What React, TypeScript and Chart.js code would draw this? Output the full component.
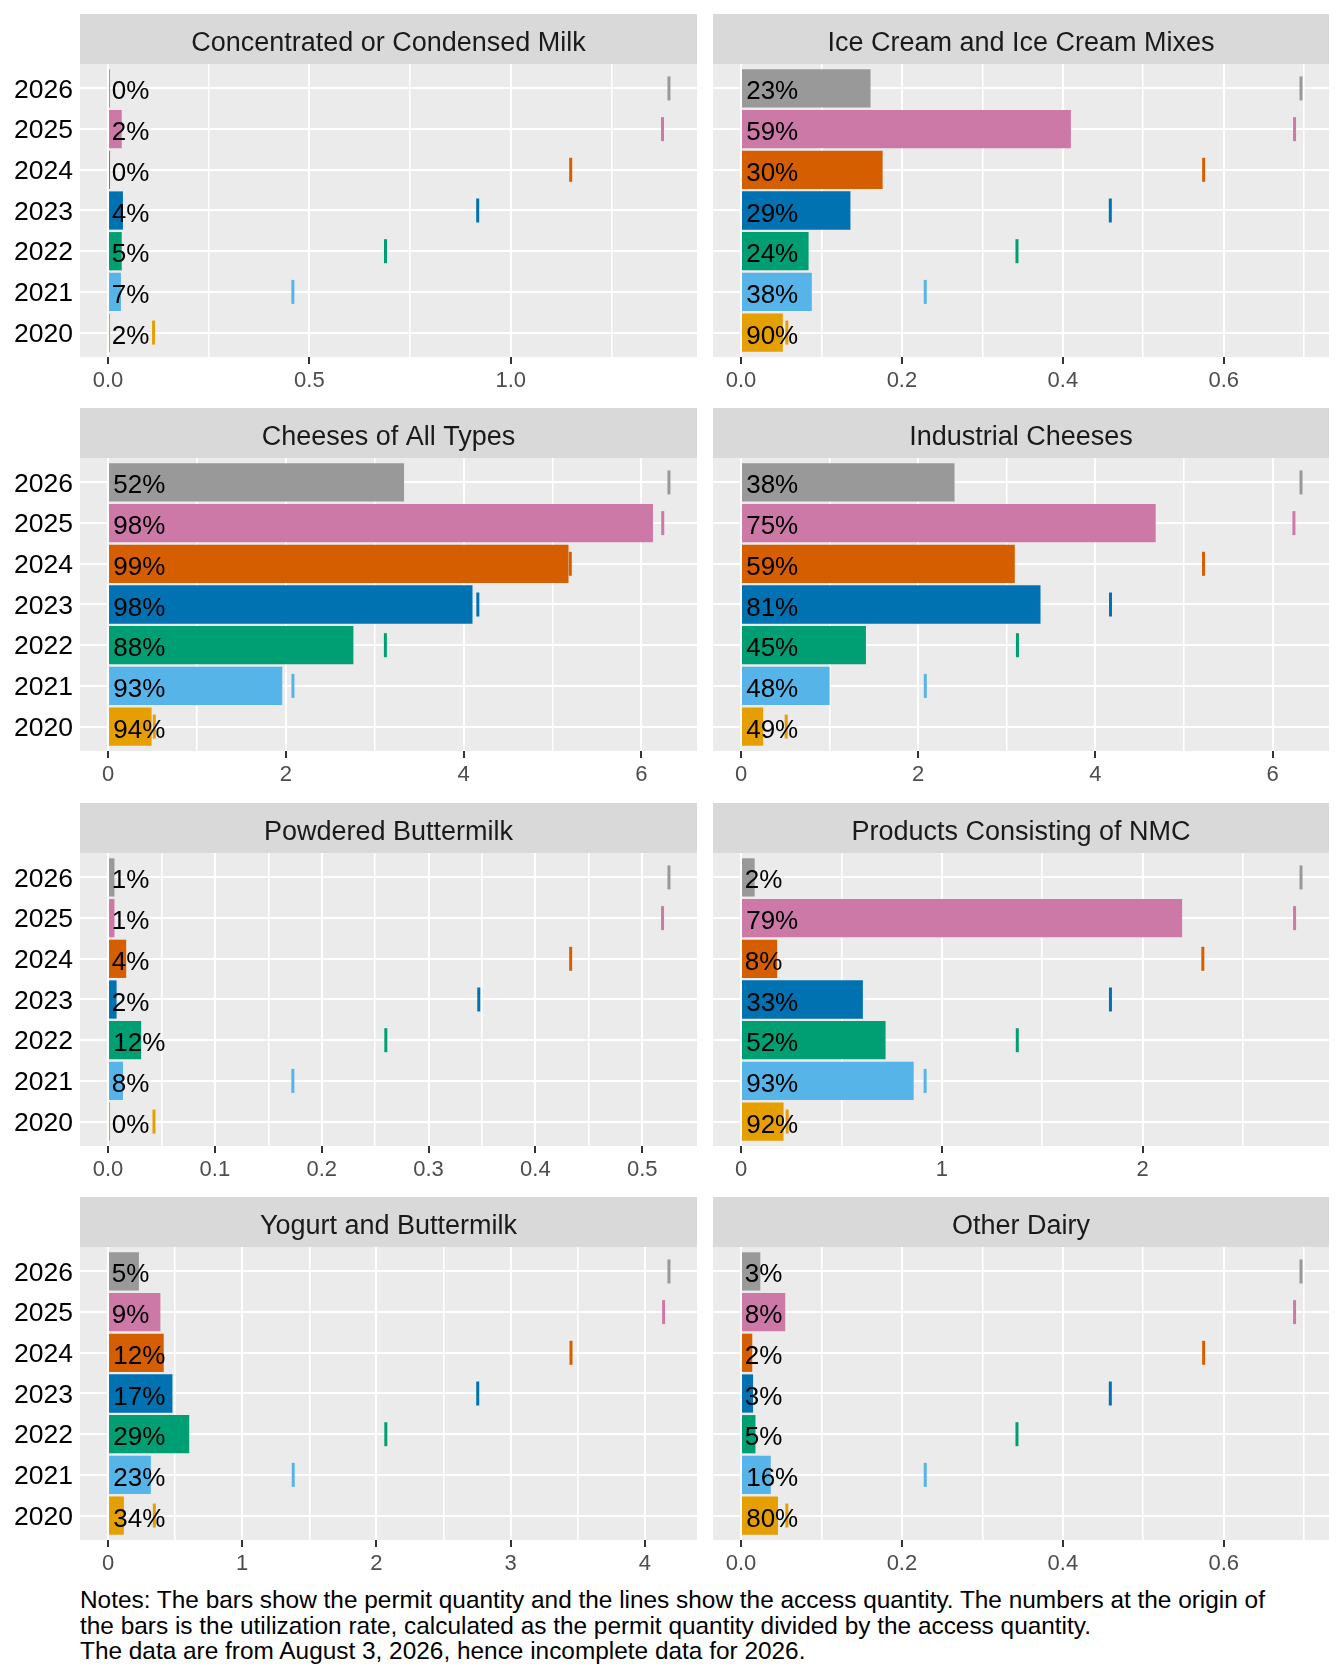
import React, { useEffect, useRef } from 'react';
import Chart from 'chart.js/auto';

// Years (bottom to top in each panel) and their colours
const years = ['2020', '2021', '2022', '2023', '2024', '2025', '2026'];
const yearColors = ['#E69F00', '#56B4E9', '#009E73', '#0072B2', '#D55E00', '#CC79A7', '#999999'];

const categories = [
  'Concentrated or Condensed Milk',
  'Ice Cream and Ice Cream Mixes',
  'Cheeses of All Types',
  'Industrial Cheeses',
  'Powdered Buttermilk',
  'Products Consisting of NMC',
  'Yogurt and Buttermilk',
  'Other Dairy',
];

// Permit quantity (bars), one row per category, 2020..2026
const permitQuantity: number[][] = [
  [0.002, 0.032, 0.034, 0.037, 0.003, 0.034, 0.003],
  [0.052, 0.088, 0.084, 0.136, 0.176, 0.41, 0.161],
  [0.49, 1.96, 2.76, 4.1, 5.18, 6.13, 3.33],
  [0.25, 1.0, 1.41, 3.38, 3.09, 4.68, 2.41],
  [0.0002, 0.014, 0.031, 0.008, 0.017, 0.006, 0.006],
  [0.212, 0.86, 0.72, 0.607, 0.18, 2.197, 0.068],
  [0.118, 0.319, 0.605, 0.48, 0.415, 0.39, 0.23],
  [0.046, 0.037, 0.018, 0.015, 0.014, 0.055, 0.024],
];

// Access quantity (vertical lines), 2020..2026
const accessQuantity: number[][] = [
  [0.113, 0.459, 0.689, 0.918, 1.149, 1.377, 1.393],
  [0.057, 0.229, 0.343, 0.459, 0.575, 0.688, 0.696],
  [0.52, 2.08, 3.12, 4.16, 5.2, 6.24, 6.31],
  [0.51, 2.08, 3.12, 4.17, 5.22, 6.24, 6.32],
  [0.043, 0.173, 0.26, 0.347, 0.433, 0.519, 0.525],
  [0.23, 0.917, 1.376, 1.84, 2.3, 2.757, 2.789],
  [0.345, 1.38, 2.07, 2.755, 3.45, 4.14, 4.18],
  [0.057, 0.229, 0.343, 0.459, 0.575, 0.688, 0.696],
];

// Utilization rate labels (%), 2020..2026
const utilizationRate: number[][] = [
  [2, 7, 5, 4, 0, 2, 0],
  [90, 38, 24, 29, 30, 59, 23],
  [94, 93, 88, 98, 99, 98, 52],
  [49, 48, 45, 81, 59, 75, 38],
  [0, 8, 12, 2, 4, 1, 1],
  [92, 93, 52, 33, 8, 79, 2],
  [34, 23, 29, 17, 12, 9, 5],
  [80, 16, 5, 3, 2, 8, 3],
];

// x axis breaks per panel
const majorTicks: number[][] = [
  [0, 0.5, 1.0],
  [0, 0.2, 0.4, 0.6],
  [0, 2, 4, 6],
  [0, 2, 4, 6],
  [0, 0.1, 0.2, 0.3, 0.4, 0.5],
  [0, 1, 2],
  [0, 1, 2, 3, 4],
  [0, 0.2, 0.4, 0.6],
];
const tickLabels: string[][] = [
  ['0.0', '0.5', '1.0'],
  ['0.0', '0.2', '0.4', '0.6'],
  ['0', '2', '4', '6'],
  ['0', '2', '4', '6'],
  ['0.0', '0.1', '0.2', '0.3', '0.4', '0.5'],
  ['0', '1', '2'],
  ['0', '1', '2', '3', '4'],
  ['0.0', '0.2', '0.4', '0.6'],
];
const minorTicks: number[][] = [
  [0.25, 0.75, 1.25],
  [0.1, 0.3, 0.5, 0.7],
  [1, 3, 5],
  [1, 3, 5],
  [0.05, 0.15, 0.25, 0.35, 0.45],
  [0.5, 1.5, 2.5],
  [0.5, 1.5, 2.5, 3.5],
  [0.1, 0.3, 0.5, 0.7],
];

const notes =
  'Notes: The bars show the permit quantity and the lines show the access quantity. The numbers at the origin of\n' +
  'the bars is the utilization rate, calculated as the permit quantity divided by the access quantity.\n' +
  'The data are from August 3, 2026, hence incomplete data for 2026.';

const FONT = "'Liberation Sans', Arial, sans-serif";
const STRIP_H = 50;
const PANEL_H = 293;
const X_AXIS_H = 46;
const Y_AXIS_W = 80;
const ROW_PITCH = 394.3;

type PanelProps = { index: number };

const Panel: React.FC<PanelProps> = ({ index }) => {
  const canvasRef = useRef<HTMLCanvasElement | null>(null);
  const col = index % 2;
  const row = Math.floor(index / 2);
  const width = col === 0 ? 700 : 630;
  const height = STRIP_H + PANEL_H + X_AXIS_H;

  useEffect(() => {
    const canvas = canvasRef.current;
    if (!canvas) return;

    const permit = permitQuantity[index];
    const access = accessQuantity[index];
    const rates = utilizationRate[index];
    const majors = majorTicks[index];
    const labels = tickLabels[index];
    const allTicks = [...majors, ...minorTicks[index]].sort((a, b) => a - b);
    const top = Math.max(...permit, ...access);
    const majorIndex = (v: number) => majors.findIndex((m) => Math.abs(m - v) < 1e-9);

    // grey panel, facet strip and the rate labels at the bar origin
    const panelPlugin = {
      id: 'facetPanel',
      beforeDraw(chart: any) {
        const { ctx, chartArea: a } = chart;
        ctx.save();
        ctx.fillStyle = '#EBEBEB';
        ctx.fillRect(a.left, a.top, a.right - a.left, a.bottom - a.top);
        ctx.fillStyle = '#D9D9D9';
        ctx.fillRect(a.left, a.top - STRIP_H, a.right - a.left, STRIP_H);
        ctx.fillStyle = '#1A1A1A';
        ctx.font = `27px ${FONT}`;
        ctx.textAlign = 'center';
        ctx.textBaseline = 'alphabetic';
        ctx.fillText(categories[index], (a.left + a.right) / 2, a.top - STRIP_H + 36.5);
        ctx.restore();
      },
      afterDatasetsDraw(chart: any) {
        const { ctx } = chart;
        const x0 = chart.scales.x.getPixelForValue(0);
        const meta = chart.getDatasetMeta(0);
        ctx.save();
        ctx.font = `26px ${FONT}`;
        ctx.fillStyle = '#000000';
        ctx.textAlign = 'left';
        ctx.textBaseline = 'alphabetic';
        meta.data.forEach((bar: any, i: number) => {
          const text = `${rates[i]}%`;
          const w = ctx.measureText(text).width;
          ctx.fillText(text, x0 + 0.1 * w, bar.y + 11);
        });
        ctx.restore();
      },
    };

    const chart = new Chart(canvas, {
      type: 'bar',
      data: {
        datasets: [
          {
            type: 'bar',
            data: years.map((_, i) => ({ x: permit[i], y: i })),
            backgroundColor: yearColors,
            barPercentage: 0.94,
            categoryPercentage: 1,
            minBarLength: 2,
          },
          {
            type: 'scatter',
            data: years.map((_, i) => ({ x: access[i], y: i })),
            pointStyle: 'line',
            pointRotation: 90,
            pointRadius: 12,
            pointBorderWidth: 3,
            pointBorderColor: yearColors,
            pointBackgroundColor: yearColors,
          },
        ],
      } as any,
      options: {
        indexAxis: 'y',
        responsive: false,
        animation: false,
        events: [],
        layout: {
          autoPadding: false,
          padding: { top: STRIP_H, bottom: 0, left: col === 0 ? 0 : 8, right: col === 0 ? 3 : 6 },
        },
        plugins: { legend: { display: false }, tooltip: { enabled: false } },
        scales: {
          x: {
            type: 'linear',
            position: 'bottom',
            offset: false,
            min: -0.05 * top,
            max: 1.05 * top,
            afterBuildTicks: (s: any) => {
              s.ticks = allTicks.map((v) => ({ value: v }));
            },
            afterFit: (s: any) => {
              s.height = X_AXIS_H;
            },
            border: { display: false },
            grid: {
              offset: false,
              color: '#FFFFFF',
              lineWidth: (c: any) => (c.tick && majorIndex(c.tick.value) >= 0 ? 2 : 1.6),
              drawTicks: true,
              tickLength: 7,
              tickWidth: 2,
              tickColor: (c: any) =>
                c.tick && majorIndex(c.tick.value) >= 0 ? '#333333' : 'rgba(0,0,0,0)',
            },
            ticks: {
              autoSkip: false,
              maxRotation: 0,
              padding: 4,
              color: '#4D4D4D',
              font: { family: FONT, size: 22 },
              callback: (v: any) => {
                const k = majorIndex(Number(v));
                return k >= 0 ? labels[k] : '';
              },
            },
          },
          y: {
            type: 'linear',
            offset: false,
            min: -0.6,
            max: 6.6,
            afterBuildTicks: (s: any) => {
              s.ticks = years.map((_, i) => ({ value: i }));
            },
            afterFit: (s: any) => {
              s.width = col === 0 ? Y_AXIS_W : 0;
            },
            border: { display: false },
            grid: { offset: false, color: '#FFFFFF', lineWidth: 2, drawTicks: false },
            ticks: {
              display: col === 0,
              padding: 7,
              labelOffset: 1.8,
              color: '#000000',
              font: { family: FONT, size: 26.5 },
              callback: (v: any) => years[Number(v)],
            },
          },
        },
      } as any,
      plugins: [panelPlugin],
    });

    return () => {
      chart.destroy();
    };
  }, [index]);

  return (
    <canvas
      ref={canvasRef}
      width={width}
      height={height}
      style={{
        position: 'absolute',
        left: col === 0 ? 0 : 705,
        top: Math.round(14 + ROW_PITCH * row),
        width,
        height,
      }}
    />
  );
};

const App: React.FC = () => {
  return (
    <div
      style={{
        position: 'absolute',
        left: 0,
        top: 0,
        width: 1344,
        height: 1680,
        background: '#FFFFFF',
        overflow: 'hidden',
      }}
    >
      {categories.map((_, i) => (
        <Panel key={i} index={i} />
      ))}
      <div
        style={{
          position: 'absolute',
          left: 80,
          top: 1587,
          fontFamily: FONT,
          fontSize: 24.4,
          lineHeight: '25.5px',
          whiteSpace: 'pre',
          color: '#000000',
        }}
      >
        {notes}
      </div>
    </div>
  );
};

export default App;
